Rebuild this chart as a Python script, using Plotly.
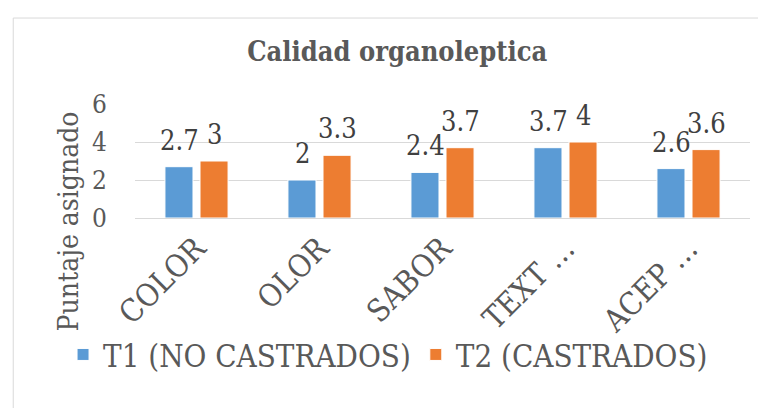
import plotly.graph_objects as go

# Data
categorias = ['COLOR', 'OLOR', 'SABOR', 'TEXT …', 'ACEP …']
t1_no_castrados = [2.7, 2.0, 2.4, 3.7, 2.6]
t2_castrados = [3.0, 3.3, 3.7, 4.0, 3.6]
y_ticks = [0, 2, 4, 6]

serie_names = ['T1 (NO CASTRADOS)', 'T2 (CASTRADOS)']
colores = ['#5B9BD5', '#ED7D31']
y_title = 'Puntaje asignado'

FONT = "DejaVu Serif Condensed, DejaVu Serif"
GRIS = '#595959'

fig = go.Figure()
for name, vals, col in zip(serie_names, [t1_no_castrados, t2_castrados], colores):
    fig.add_trace(go.Bar(
        x=categorias, y=vals, name=name,
        marker=dict(color=col, line=dict(color='white', width=1)),
    ))

# Data labels above each bar (Excel style)
for shift, vals in zip([-17.5, 17.5], [t1_no_castrados, t2_castrados]):
    for cat, v in zip(categorias, vals):
        fig.add_annotation(
            x=cat, y=v, text='%g' % v, showarrow=False,
            xref='x', yref='y', yanchor='bottom',
            xshift=shift, yshift=9,
            font=dict(family=FONT, size=27, color='#404040'),
        )

# y axis title: Excel centres it lower than the plot area, so place it by hand
fig.add_annotation(
    text=y_title, textangle=-90, showarrow=False,
    xref='paper', yref='paper', x=-0.109, y=-0.03,
    xanchor='center', yanchor='middle',
    font=dict(family=FONT, size=28, color=GRIS),
)

# Chart border
fig.add_shape(type='rect', xref='paper', yref='paper',
              x0=-0.198, x1=1.04, y0=-1.8, y1=1.754,
              line=dict(color='#D9D9D9', width=1), fillcolor='rgba(0,0,0,0)', layer='below')

# page body has an 8px margin, so the figure is 16px smaller than the window
fig.update_layout(
    width=750, height=400,
    margin=dict(l=127, r=8, t=96, b=190),
    paper_bgcolor='white', plot_bgcolor='white',
    barmode='group', bargap=0.43, bargroupgap=0.2,
    font=dict(family=FONT, color=GRIS),
    title=dict(text='<b>Calidad organoleptica</b>', x=0.519, xref='container',
               y=1 - 44 / 400, yref='container', xanchor='center', yanchor='middle',
               font=dict(family=FONT, size=27, color=GRIS)),
    legend=dict(orientation='h', x=-0.117, xanchor='left', y=-1.2, yanchor='middle',
                bgcolor='rgba(0,0,0,0)',
                font=dict(family=FONT, size=31, color=GRIS), itemwidth=30),
    showlegend=True,
)

fig.update_yaxes(
    range=[0, 6], tickvals=y_ticks, showgrid=True, gridcolor='#D9D9D9', gridwidth=1,
    zeroline=True, zerolinecolor='#D9D9D9', zerolinewidth=1,
    tickfont=dict(family=FONT, size=26, color=GRIS), ticklabelstandoff=27,
    automargin=False,
)
fig.update_xaxes(
    tickangle=-45, tickfont=dict(family=FONT, size=31, color=GRIS),
    showline=False, ticks='', ticklabelstandoff=5, automargin=False,
)

fig.write_html("out.html")
